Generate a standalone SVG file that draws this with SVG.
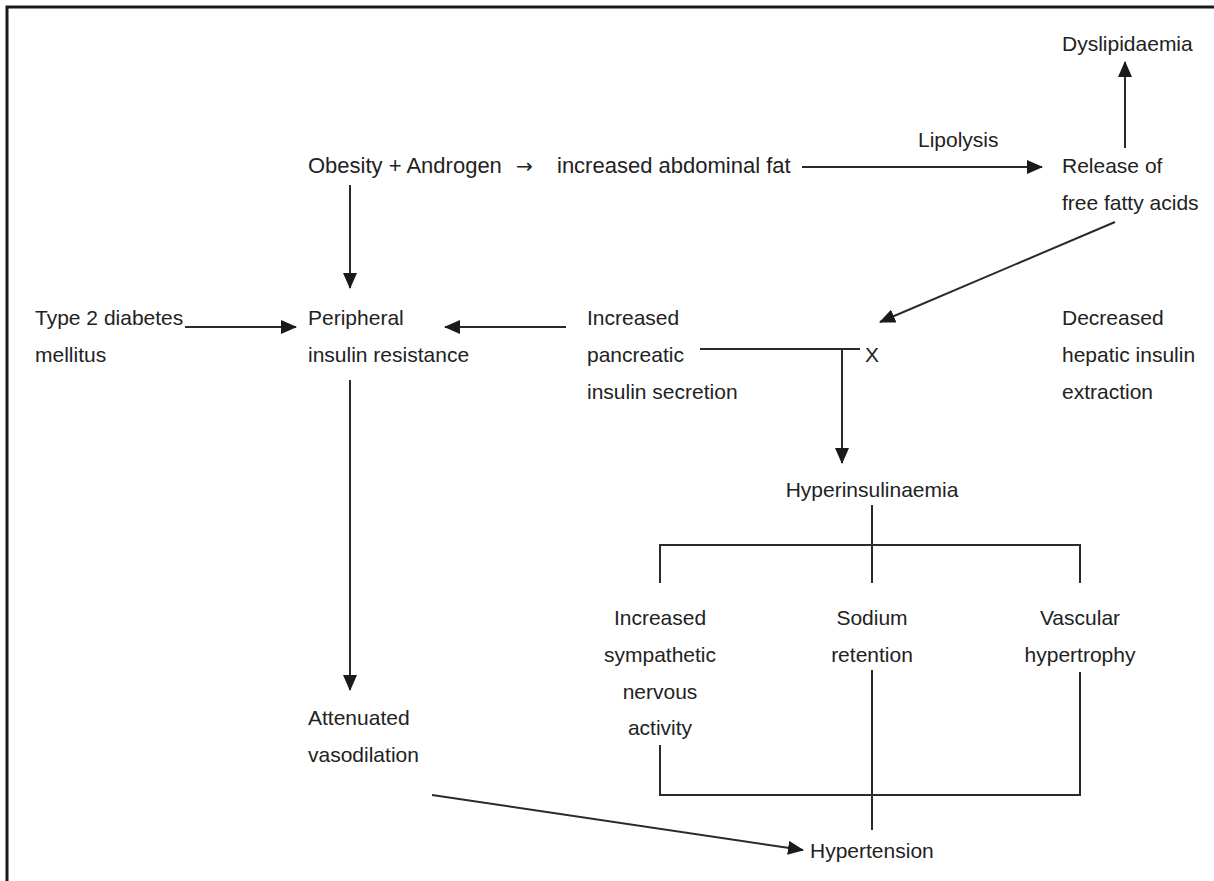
<svg xmlns="http://www.w3.org/2000/svg" width="1214" height="881" viewBox="0 0 1214 881">
<style>
text{font-family:"Liberation Sans",Arial,sans-serif;font-size:21px;fill:#222}
.m{text-anchor:middle}
.ar{font-family:"DejaVu Sans",sans-serif;font-size:20px}
.c line,.c path,.c polyline{stroke:#2a2a2a;stroke-width:2;fill:none}
.frame{stroke:#1a1a1a;stroke-width:3;fill:none}
</style>
<defs>
<marker id="ah" markerUnits="userSpaceOnUse" markerWidth="16" markerHeight="14" refX="15" refY="7" orient="auto">
<path d="M0,0 L16,7 L0,14 Z" fill="#1a1a1a"/>
</marker>
</defs>
<rect width="1214" height="881" fill="#fff"/>
<polyline class="frame" points="7,881 7,7 1214,7"/>

<g id="dyslipidaemia"><text x="1062" y="51">Dyslipidaemia</text></g>
<g id="lipolysis"><text x="918" y="147">Lipolysis</text></g>
<g id="obesity"><text x="308" y="173" style="font-size:22px">Obesity + Androgen<tspan x="516" class="ar">→</tspan><tspan x="557">increased abdominal fat</tspan></text></g>
<g id="ffa"><text x="1062" y="173">Release of</text><text x="1062" y="210">free fatty acids</text></g>
<g id="diabetes"><text x="35" y="325">Type 2 diabetes</text><text x="35" y="362">mellitus</text></g>
<g id="peripheral"><text x="308" y="325">Peripheral</text><text x="308" y="362">insulin resistance</text></g>
<g id="pancreatic"><text x="587" y="325">Increased</text><text x="587" y="362">pancreatic</text><text x="587" y="399">insulin secretion</text></g>
<g id="x"><text x="865" y="362">X</text></g>
<g id="hepatic"><text x="1062" y="325">Decreased</text><text x="1062" y="362">hepatic insulin</text><text x="1062" y="399">extraction</text></g>
<g id="hyperinsulinaemia"><text class="m" x="872" y="497">Hyperinsulinaemia</text></g>
<g id="sympathetic"><text class="m" x="660" y="625">Increased</text><text class="m" x="660" y="662">sympathetic</text><text class="m" x="660" y="699">nervous</text><text class="m" x="660" y="735">activity</text></g>
<g id="sodium"><text class="m" x="872" y="625">Sodium</text><text class="m" x="872" y="662">retention</text></g>
<g id="vascular"><text class="m" x="1080" y="625">Vascular</text><text class="m" x="1080" y="662">hypertrophy</text></g>
<g id="attenuated"><text x="308" y="725">Attenuated</text><text x="308" y="762">vasodilation</text></g>
<g id="hypertension"><text x="810" y="858">Hypertension</text></g>

<g id="connectors" class="c">
<line x1="1125" y1="148" x2="1125" y2="62" marker-end="url(#ah)"/>
<line x1="802" y1="167" x2="1042" y2="167" marker-end="url(#ah)"/>
<line x1="1115" y1="222" x2="880" y2="322" marker-end="url(#ah)"/>
<line x1="350" y1="185" x2="350" y2="288" marker-end="url(#ah)"/>
<line x1="185" y1="327" x2="296" y2="327" marker-end="url(#ah)"/>
<line x1="566" y1="327" x2="445" y2="327" marker-end="url(#ah)"/>
<line x1="700" y1="349" x2="860" y2="349"/>
<line x1="842" y1="349" x2="842" y2="463" marker-end="url(#ah)"/>
<line x1="872" y1="505" x2="872" y2="545"/>
<polyline points="660,583 660,545 1080,545 1080,583"/>
<line x1="872" y1="545" x2="872" y2="583"/>
<polyline points="660,745 660,795 1080,795 1080,672"/>
<line x1="872" y1="670" x2="872" y2="830"/>
<line x1="350" y1="380" x2="350" y2="690" marker-end="url(#ah)"/>
<line x1="432" y1="795" x2="803" y2="850" marker-end="url(#ah)"/>
</g>
</svg>
